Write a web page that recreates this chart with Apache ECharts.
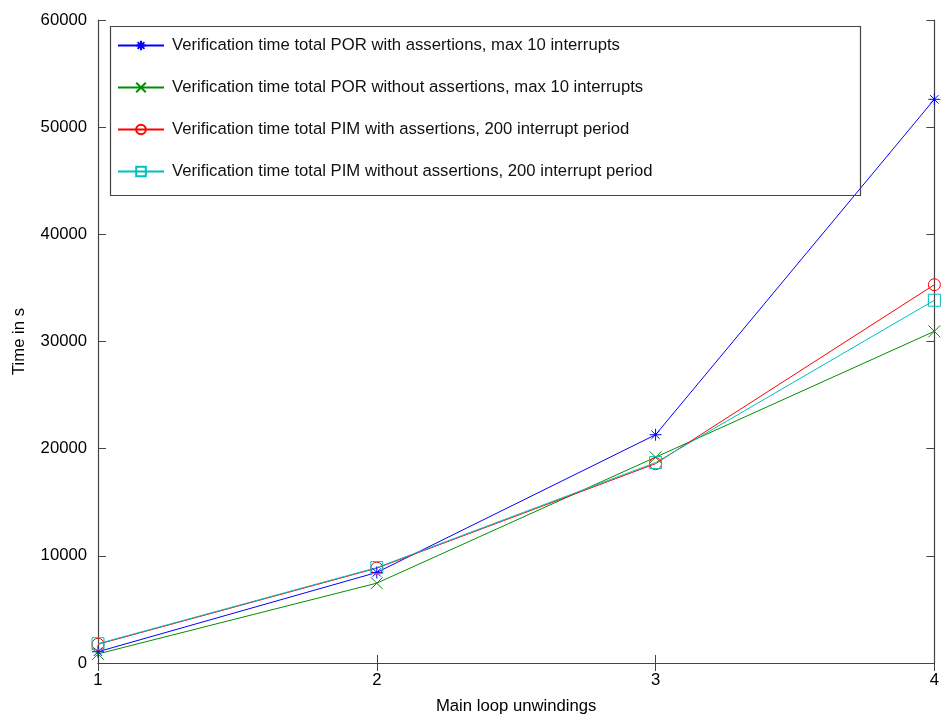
<!DOCTYPE html>
<html><head><meta charset="utf-8">
<script src="https://cdn.jsdelivr.net/npm/echarts@6/dist/echarts.min.js"></script>
<style>html,body{margin:0;padding:0;background:#fff;overflow:hidden}#c{width:942px;height:720px}</style>
</head><body><div id="c"></div>
<script>
var xValues = [1, 2, 3, 4];
var seriesNames = [
  'Verification time total POR with assertions, max 10 interrupts',
  'Verification time total POR without assertions, max 10 interrupts',
  'Verification time total PIM with assertions, 200 interrupt period',
  'Verification time total PIM without assertions, 200 interrupt period'
];
var porWith = [1050, 8450, 21300, 52600];
var porWithout = [850, 7450, 19200, 30950];
var pimWith = [1750, 8850, 18600, 35300];
var pimWithout = [1800, 8900, 18700, 33850];
var yTicks = [0, 10000, 20000, 30000, 40000, 50000, 60000];

var colors = ['#0000ff', '#008f00', '#ff0000', '#00bfbf'];
var symbols = [
  'path://M0 5L10 5M5 0L5 10M1.5 1.5L8.5 8.5M8.5 1.5L1.5 8.5',
  'path://M0 0L10 10M10 0L0 10',
  'circle',
  'rect'
];
var allData = [porWith, porWithout, pimWith, pimWithout];
var FONT = 'Liberation Sans';
var FS = 16.7;
var frameColor = '#444';

var series = allData.map(function (vals, i) {
  return {
    name: seriesNames[i],
    type: 'line',
    xAxisIndex: 0, yAxisIndex: 0,
    data: xValues.map(function (x, j) { return [x, vals[j]]; }),
    symbol: symbols[i],
    symbolSize: 12,
    showAllSymbol: true,
    lineStyle: { color: colors[i], width: 1 },
    itemStyle: { color: 'none', borderColor: colors[i], borderWidth: 1 },
    emphasis: { disabled: true },
    animation: false
  };
});

var chart = echarts.init(document.getElementById('c'));
chart.setOption({
  animation: false,
  textStyle: { fontFamily: FONT },
  grid: { left: 98, right: 1, top: 20, bottom: 50, containLabel: false },
  xAxis: [{
    type: 'value', min: 1, max: 4, interval: 1,
    name: 'Main loop unwindings', nameLocation: 'middle', nameGap: 35,
    nameTextStyle: { color: '#000', fontSize: FS, fontFamily: FONT },
    axisLine: { lineStyle: { color: frameColor, width: 1.2 } },
    axisTick: { inside: true, length: 8, lineStyle: { color: frameColor } },
    axisLabel: { color: '#000', fontSize: FS, fontFamily: FONT, margin: 9 },
    splitLine: { show: false }
  }, {
    type: 'value', min: 1, max: 4, interval: 1, position: 'top',
    axisLine: { lineStyle: { color: frameColor, width: 1.2 } },
    axisTick: { inside: true, length: 8, lineStyle: { color: frameColor } },
    axisLabel: { show: false }, splitLine: { show: false }
  }],
  yAxis: [{
    type: 'value', min: yTicks[0], max: yTicks[yTicks.length - 1], interval: 10000,
    name: 'Time in s', nameLocation: 'middle', nameGap: 70,
    nameTextStyle: { color: '#000', fontSize: FS, fontFamily: FONT },
    axisLine: { show: true, lineStyle: { color: frameColor, width: 1.2 } },
    axisTick: { show: true, inside: true, length: 8, lineStyle: { color: frameColor } },
    axisLabel: { color: '#000', fontSize: FS, fontFamily: FONT, margin: 11,
      formatter: function (v) { return String(v); } },
    splitLine: { show: false }
  }, {
    type: 'value', min: yTicks[0], max: yTicks[yTicks.length - 1], interval: 10000, position: 'right',
    axisLine: { show: true, lineStyle: { color: frameColor, width: 1.2 } },
    axisTick: { show: true, inside: true, length: 8, lineStyle: { color: frameColor } },
    axisLabel: { show: false }, splitLine: { show: false }
  }],
  legend: {
    orient: 'vertical', left: 108, top: 37, padding: [0, 0, 0, 9],
    itemWidth: 46, itemHeight: 12, itemGap: 25,
    textStyle: { color: '#111', fontSize: FS, fontFamily: FONT, padding: [0, 0, 0, 3] },
    data: seriesNames,
    selectedMode: false
  },
  graphic: [{
    type: 'rect', left: 108, top: 24, z: 100,
    shape: { width: 750, height: 169 },
    style: { fill: 'none', stroke: '#444', lineWidth: 1.2 }
  }],
  series: series
});
</script></body></html>
